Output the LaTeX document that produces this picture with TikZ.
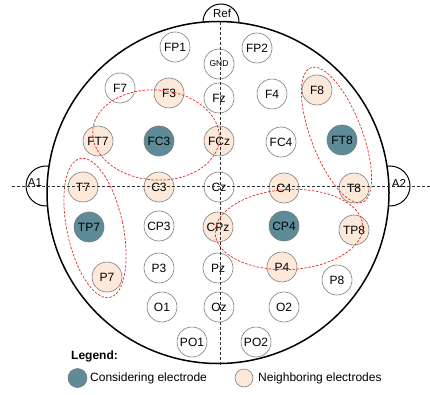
\documentclass[tikz,border=0pt]{standalone}
\usepackage{fontspec}
\setmainfont{Liberation Sans}
\definecolor{elecline}{RGB}{125,125,125}
\definecolor{neighfill}{RGB}{252,233,218}
\definecolor{focusfill}{RGB}{94,139,152}
\definecolor{groupred}{RGB}{232,40,40}
\begin{document}
\begin{tikzpicture}[x=1pt,y=-1pt,
  elec/.style={circle,draw=elecline,line width=0.6pt,minimum size=30pt,inner sep=0pt,
    fill=white,font=\fontsize{12}{13}\selectfont},
  neigh/.style={elec,fill=neighfill},
  focus/.style={elec,fill=focusfill},
  ear/.style={draw=black,line width=1pt,fill=white},
  earlabel/.style={inner sep=0pt,font=\fontsize{11.5}{13}\selectfont},
  midline/.style={draw=black!80,line width=0.6pt,dash pattern=on 3pt off 2pt},
  group/.style={draw=groupred,line width=0.7pt,dash pattern=on 2.5pt off 1.5pt},
  legendtext/.style={anchor=west,font=\fontsize{12}{14}\selectfont}]
\useasboundingbox (0,0) rectangle (430,395);

% ears and reference bump, partly hidden by the head
\draw[ear] (221,22) circle (18pt);
\draw[ear] (46,186) circle (20pt);
\draw[ear] (390,186) circle (20pt);
% head outline
\draw[line width=1.5pt,fill=white] (218,192.5) circle (171pt);

% electrodes
\node[elec] (FP1) at (175,47) {FP1};
\node[elec] (FP2) at (257,48) {FP2};
\node[elec,font=\fontsize{8.5}{10}\selectfont] (GND) at (219,64) {GND};
\node[elec] (F7) at (120,88) {F7};
\node[neigh] (F3) at (169,93) {F3};
\node[elec] (Fz) at (219,98) {Fz};
\node[elec] (F4) at (272,94) {F4};
\node[neigh] (F8) at (317,90) {F8};
\node[neigh] (FT7) at (98,141) {FT7};
\node[focus] (FC3) at (159,141) {FC3};
\node[neigh] (FCz) at (219,141) {FCz};
\node[elec] (FC4) at (281,142) {FC4};
\node[focus] (FT8) at (342,140) {FT8};
\node[neigh] (T7) at (83,187) {T7};
\node[neigh] (C3) at (159,187) {C3};
\node[elec] (Cz) at (219,187) {Cz};
\node[neigh] (C4) at (284,188) {C4};
\node[neigh] (T8) at (354,188) {T8};
\node[focus] (TP7) at (89,227) {TP7};
\node[elec] (CP3) at (159,226) {CP3};
\node[neigh] (CPz) at (218,227) {CPz};
\node[focus] (CP4) at (284,226) {CP4};
\node[neigh] (TP8) at (354,230) {TP8};
\node[neigh] (P7) at (107,277) {P7};
\node[elec] (P3) at (159,268) {P3};
\node[elec] (Pz) at (218,268) {Pz};
\node[neigh] (P4) at (282,267) {P4};
\node[elec] (P8) at (337,280) {P8};
\node[elec] (O1) at (162,307) {O1};
\node[elec] (Oz) at (219,307) {Oz};
\node[elec] (O2) at (284,307) {O2};
\node[elec] (PO1) at (192,342) {PO1};
\node[elec] (PO2) at (256,342) {PO2};

% midlines
\coordinate (hl) at (12,186);
\coordinate (hr) at (430,186);
\coordinate (vt) at (220,22);
\coordinate (vb) at (220,365);
\draw[midline] (hl) -- (hr);
\draw[midline] (vt) -- (vb);

% ear labels
\node[earlabel] (ref) at (222,13) {Ref};
\node[earlabel] (a1) at (35,183) {A1};
\node[earlabel] (a2) at (399,183) {A2};

% neighbourhood groups
\draw[group,rotate around={-4:(156,135)}] (156,135) ellipse [x radius=63.5pt,y radius=45pt];
\draw[group,rotate around={12:(95,228)}] (95,228) ellipse [x radius=28pt,y radius=71pt];
\draw[group,rotate around={21:(336.5,135)}] (336.5,135) ellipse [x radius=25.5pt,y radius=72pt];
\draw[group,rotate around={3:(289,229.5)}] (289,229.5) ellipse [x radius=74pt,y radius=40pt];

% legend
\node[anchor=west,inner sep=0pt,font=\bfseries\fontsize{12}{14}\selectfont] (legend) at (71,356) {Legend:};
\node[circle,draw=elecline,line width=0.6pt,fill=focusfill,minimum size=19pt,inner sep=0pt] (lfocus) at (77.5,378) {};
\node[legendtext,inner sep=0pt] (lfocustext) at (90,378) {Considering electrode};
\node[circle,draw=elecline,line width=0.6pt,fill=neighfill,minimum size=18pt,inner sep=0pt] (lneigh) at (244,378) {};
\node[legendtext,inner sep=0pt] (lneightext) at (258,378) {Neighboring electrodes};
\end{tikzpicture}
\end{document}
